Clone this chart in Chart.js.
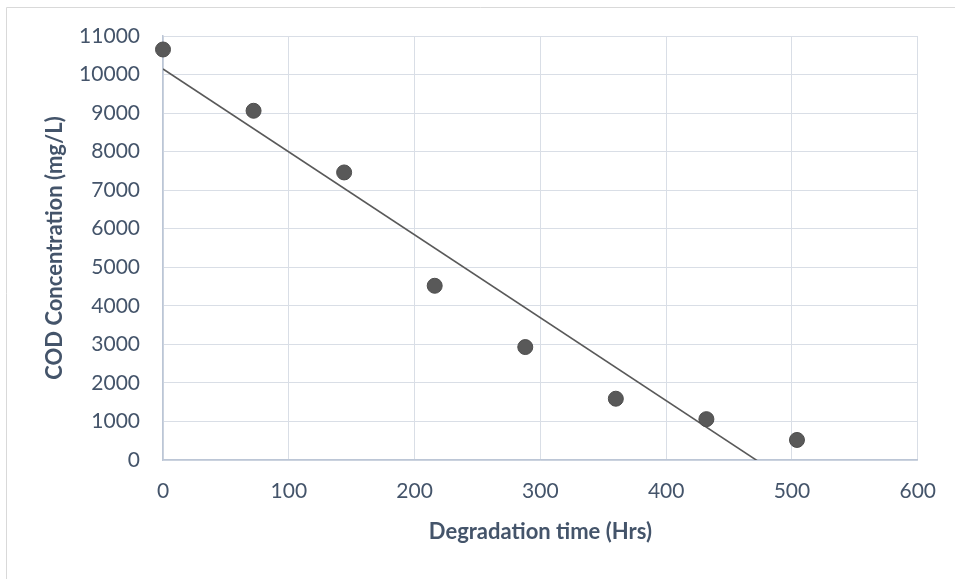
<!DOCTYPE html>
<html>
<head>
<meta charset="utf-8">
<script src="https://cdn.jsdelivr.net/npm/chart.js@4/dist/chart.umd.min.js"></script>
<style>
  html, body { margin: 0; padding: 0; background: #ffffff; }
  #wrap { position: relative; width: 955px; height: 579px; overflow: hidden; }
  canvas { display: block; }
</style>
</head>
<body>
<div id="wrap"><canvas id="chart" width="955" height="579"></canvas></div>
<script>
// Sampling times (hours) and measured COD (mg/L)
const hours = [0, 72, 144, 216, 288, 360, 432, 504];
const codValues = [10650, 9060, 7460, 4520, 2930, 1590, 1060, 520];

// Axis tick settings
const xTicks = [0, 100, 200, 300, 400, 500, 600];
const yTicks = [0, 1000, 2000, 3000, 4000, 5000, 6000, 7000, 8000, 9000, 10000, 11000];

const xTitle = 'Degradation time (Hrs)';
const yTitle = 'COD Concentration (mg/L)';

// Least-squares linear trend through the measurements
function linearFit(xs, ys) {
  const n = xs.length;
  const mx = xs.reduce((a, b) => a + b, 0) / n;
  const my = ys.reduce((a, b) => a + b, 0) / n;
  let sxy = 0, sxx = 0;
  for (let i = 0; i < n; i++) {
    sxy += (xs[i] - mx) * (ys[i] - my);
    sxx += (xs[i] - mx) * (xs[i] - mx);
  }
  const slope = sxy / sxx;
  return { slope, intercept: my - slope * mx };
}
const fit = linearFit(hours, codValues);
const trendX = [hours[0], hours[hours.length - 1]];

const points = hours.map((h, i) => ({ x: h, y: codValues[i] }));
const trend = trendX.map(x => ({ x, y: fit.intercept + fit.slope * x }));

const textColor = '#44546A';
const gridColor = '#D9DEE6';
const axisColor = '#BCC6D6';

// Thin outer frame of the chart object
const framePlugin = {
  id: 'frame',
  beforeDraw(chart) {
    const ctx = chart.ctx;
    ctx.save();
    ctx.strokeStyle = '#D9D9D9';
    ctx.lineWidth = 1;
    ctx.beginPath();
    ctx.moveTo(6.5, chart.height);
    ctx.lineTo(6.5, 7.5);
    ctx.lineTo(chart.width, 7.5);
    ctx.stroke();
    ctx.restore();
  }
};

const plainNumber = v => String(v);

new Chart(document.getElementById('chart'), {
  type: 'scatter',
  data: {
    datasets: [
      {
        label: 'COD',
        data: points,
        order: 1,
        clip: false,
        pointRadius: 7.5,
        pointHoverRadius: 7.5,
        pointBackgroundColor: '#595959',
        pointBorderColor: '#4D4D4D',
        pointBorderWidth: 1,
        showLine: false
      },
      {
        label: 'Linear trend',
        data: trend,
        order: 2,
        showLine: true,
        borderColor: '#595959',
        borderWidth: 1.6,
        pointRadius: 0,
        pointHoverRadius: 0,
        fill: false
      }
    ]
  },
  options: {
    responsive: false,
    animation: false,
    layout: { padding: { top: 36, right: 37, left: 0, bottom: 0 } },
    plugins: {
      legend: { display: false },
      tooltip: { enabled: false }
    },
    scales: {
      x: {
        type: 'linear',
        min: xTicks[0],
        max: xTicks[xTicks.length - 1],
        afterBuildTicks(scale) { scale.ticks = xTicks.map(v => ({ value: v })); },
        afterFit(scale) { scale.height = 119; },
        grid: { color: gridColor, lineWidth: 1, drawTicks: false },
        border: { color: axisColor, width: 1.5 },
        ticks: {
          padding: 19,
          color: textColor,
          font: { family: 'Lato', size: 21 },
          maxRotation: 0,
          callback: plainNumber
        },
        title: {
          display: true,
          text: xTitle,
          color: textColor,
          font: { family: 'Lato', size: 22, weight: 'bold' },
          padding: { top: 0, bottom: 34 }
        }
      },
      y: {
        type: 'linear',
        min: yTicks[0],
        max: yTicks[yTicks.length - 1],
        afterBuildTicks(scale) { scale.ticks = yTicks.map(v => ({ value: v })); },
        afterFit(scale) { scale.width = 163; },
        grid: { color: gridColor, lineWidth: 1, drawTicks: false },
        border: { color: axisColor, width: 1.5 },
        ticks: {
          padding: 23,
          color: textColor,
          font: { family: 'Lato', size: 21 },
          callback: plainNumber
        },
        title: {
          display: true,
          text: yTitle,
          color: textColor,
          font: { family: 'Lato', size: 22, weight: 'bold' },
          padding: { top: 42, bottom: 0 }
        }
      }
    }
  },
  plugins: [framePlugin]
});
</script>
</body>
</html>
